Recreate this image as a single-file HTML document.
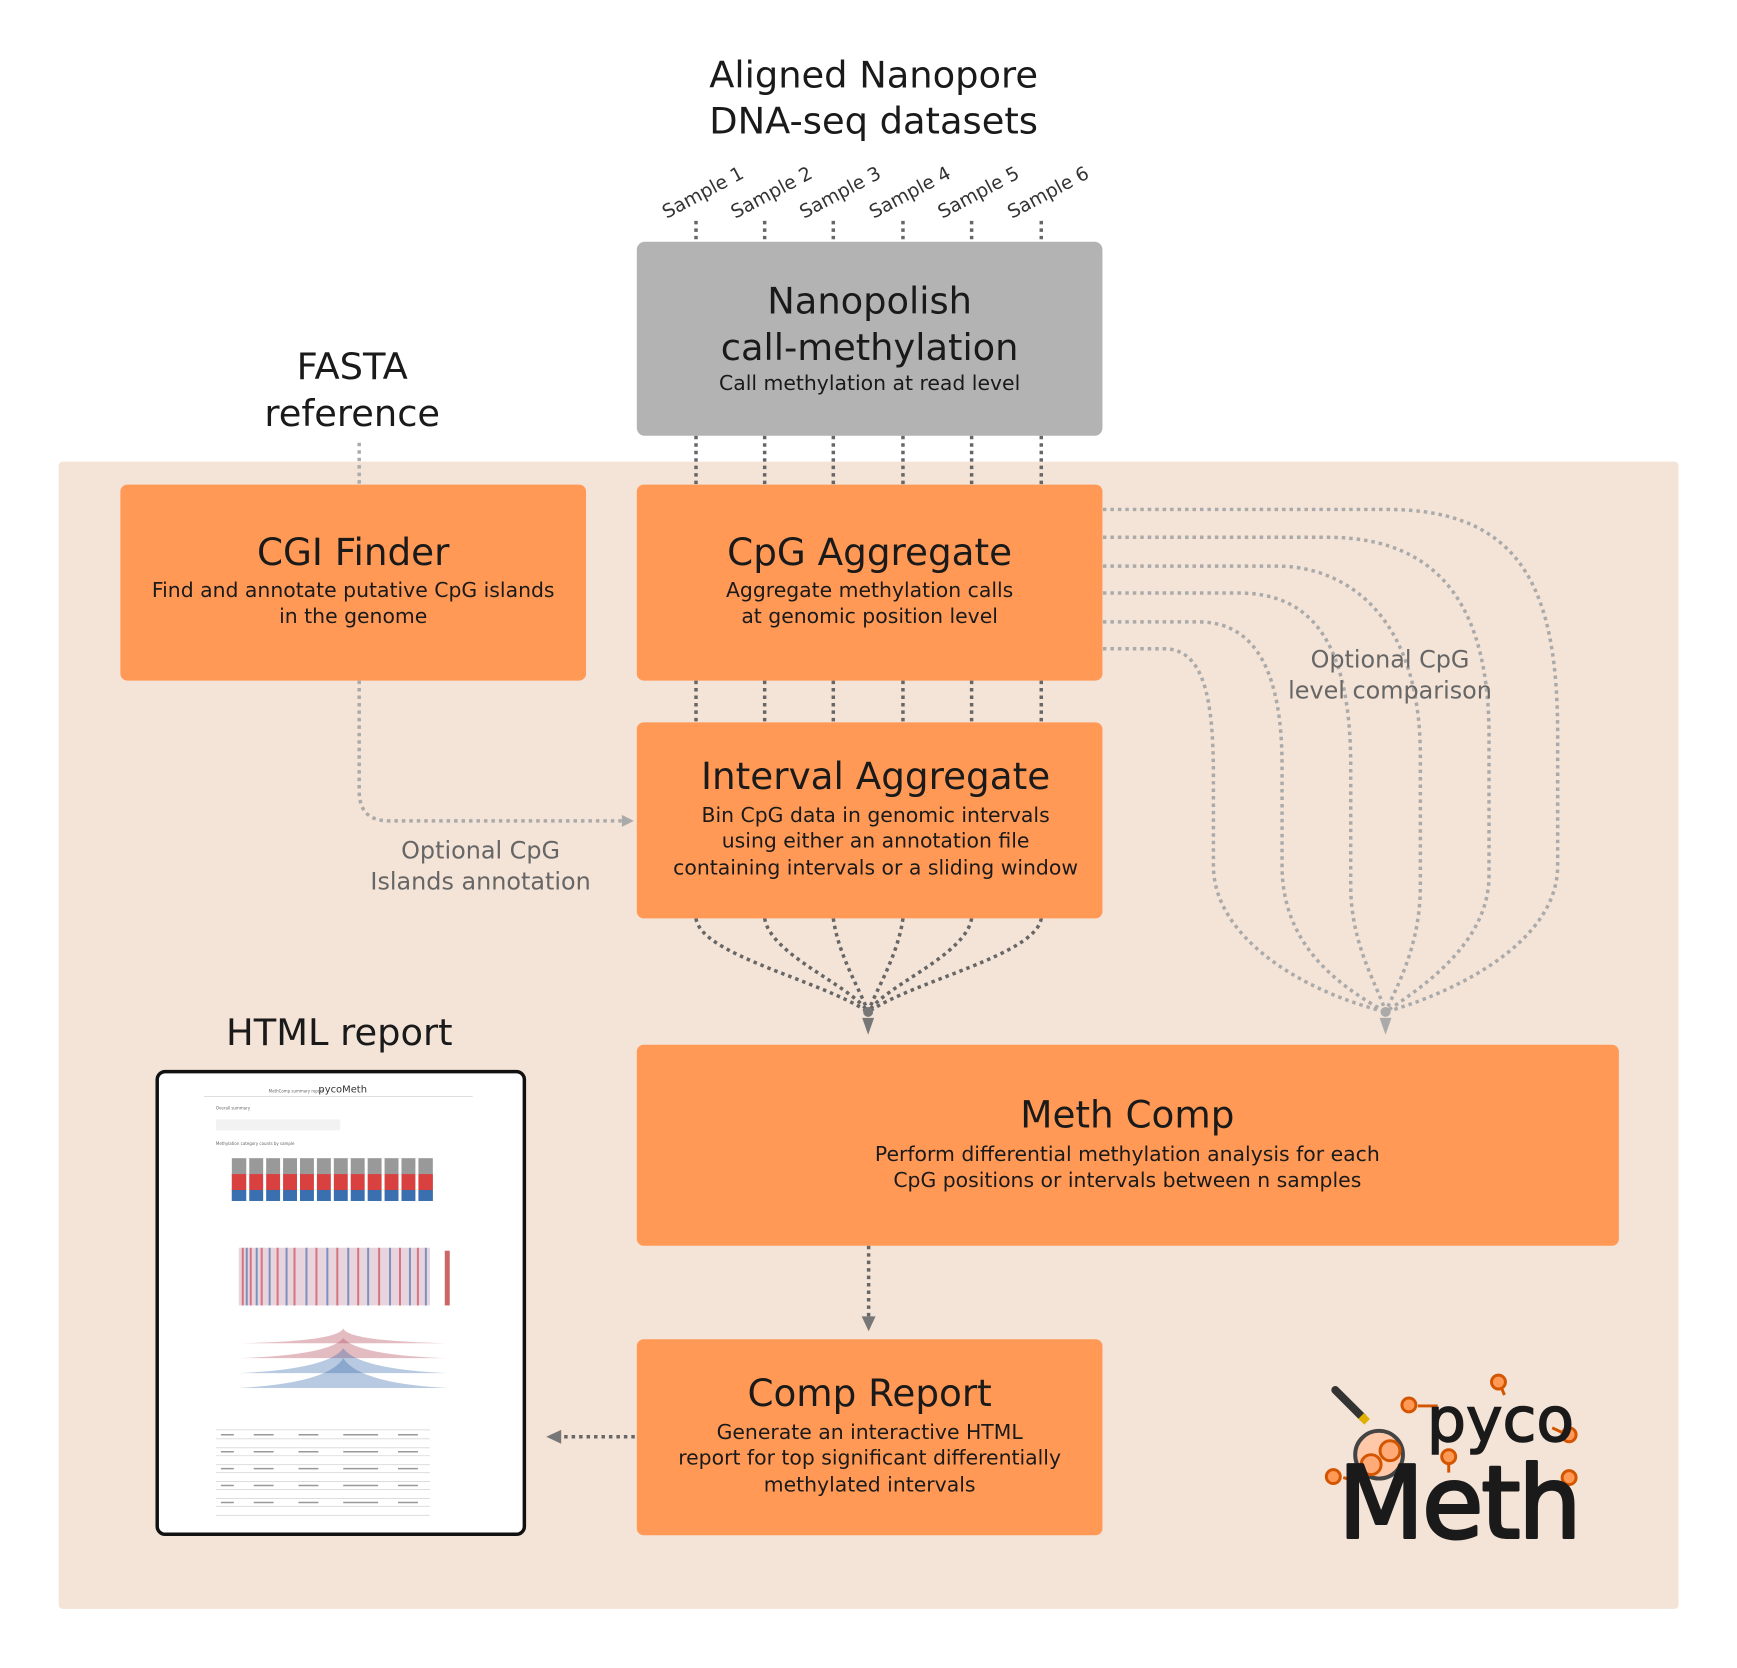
<!DOCTYPE html>
<html><head><meta charset="utf-8"><style>
html,body{margin:0;padding:0;background:#fff;}
svg{display:block;font-family:"DejaVu Sans","Liberation Sans",sans-serif;}
</style></head><body>
<svg width="1737" height="1668" viewBox="0 0 1737 1668" xmlns="http://www.w3.org/2000/svg">
<rect width="1737" height="1668" fill="#fff"/>
<g transform="scale(0.995)">
<text x="878" y="88" font-size="37" text-anchor="middle" fill="#1a1a1a">Aligned Nanopore</text>
<text x="878" y="134" font-size="37" text-anchor="middle" fill="#1a1a1a">DNA-seq datasets</text>
<g font-size="19" fill="#333">
<text transform="translate(670,220) rotate(-28)">Sample 1</text>
<text transform="translate(739,220) rotate(-28)">Sample 2</text>
<text transform="translate(808,220) rotate(-28)">Sample 3</text>
<text transform="translate(878,220) rotate(-28)">Sample 4</text>
<text transform="translate(947,220) rotate(-28)">Sample 5</text>
<text transform="translate(1017,220) rotate(-28)">Sample 6</text>
</g>
<text x="354" y="381" font-size="37" text-anchor="middle" fill="#1a1a1a">FASTA</text>
<text x="354" y="428" font-size="37" text-anchor="middle" fill="#1a1a1a">reference</text>
<rect x="59" y="464" width="1628" height="1153" rx="4" fill="#f4e3d7"/>
<g transform="translate(4.5,0)">
<g stroke="#666" stroke-width="3.5" stroke-dasharray="3.5 4" fill="none">
<path d="M695 222V243M764 222V243M833 222V243M903 222V243M972 222V243M1042 222V243"/>
<path d="M695 438V487M764 438V487M833 438V487M903 438V487M972 438V487M1042 438V487"/>
<path d="M695 684V726M764 684V726M833 684V726M903 684V726M972 684V726M1042 684V726"/>
<path d="M695 923C700 960 820 985 868 1017"/>
<path d="M764 923C770 960 850 990 868 1017"/>
<path d="M833 923C838 960 860 995 868 1017"/>
<path d="M903 923C898 960 876 995 868 1017"/>
<path d="M972 923C966 960 886 990 868 1017"/>
<path d="M1042 923C1036 960 916 985 868 1017"/>
</g>
<circle cx="868" cy="1017" r="5" fill="#777"/>
<path d="M862 1023L874 1023L868 1040Z" fill="#777"/>
</g>
<g stroke="#666" stroke-width="3.5" stroke-dasharray="3.5 4" fill="none">
<path d="M873 1252V1325"/>
<path d="M638 1444H562"/>
</g>
<path d="M866 1323L880 1323L873 1338Z" fill="#777"/>
<path d="M564 1437L564 1451L549 1444Z" fill="#777"/>
<g stroke="#aaa" stroke-width="3.5" stroke-dasharray="3.5 4" fill="none">
<path d="M361 445V487"/>
<path d="M361 684V795Q361 825 391 825H625"/>
</g>
<g transform="translate(4.5,0)">
<g stroke="#aaa" stroke-width="3.5" stroke-dasharray="3.5 4" fill="none">
<path d="M1104 512H1390C1530 512 1561 600 1561 740V870C1561 950 1450 1000 1388 1017"/>
<path d="M1104 540H1330C1450 540 1492 620 1492 740V880C1492 950 1420 995 1388 1017"/>
<path d="M1104 569H1280C1340 569 1423 610 1423 760V890C1423 950 1400 990 1388 1017"/>
<path d="M1104 596H1240C1310 596 1353 640 1353 770V890C1353 950 1380 990 1388 1017"/>
<path d="M1104 625H1200C1260 625 1284 680 1284 770V870C1284 950 1340 990 1388 1017"/>
<path d="M1104 652H1165C1205 652 1215 700 1215 780V870C1215 940 1300 995 1388 1017"/>
</g>
<circle cx="1388" cy="1017" r="5" fill="#aaa"/>
<path d="M1382 1023L1394 1023L1388 1040Z" fill="#aaa"/>
</g>
<path d="M625 819L625 831L637 825Z" fill="#aaa"/>
<g fill="#666" font-size="24" text-anchor="middle">
<text x="1397" y="671">Optional CpG</text>
<text x="1397" y="702">level comparison</text>
<text x="483" y="863">Optional CpG</text>
<text x="483" y="894">Islands annotation</text>
</g>
<rect x="640" y="243" width="468" height="195" rx="8" fill="#b3b3b3"/>
<g fill="#1a1a1a" text-anchor="middle">
<text x="874" y="315" font-size="37">Nanopolish</text>
<text x="874" y="362" font-size="37">call-methylation</text>
<text x="874" y="392" font-size="20.5">Call methylation at read level</text>
</g>
<g fill="#ff9955">
<rect x="121" y="487" width="468" height="197" rx="7"/>
<rect x="640" y="487" width="468" height="197" rx="7"/>
<rect x="640" y="726" width="468" height="197" rx="7"/>
<rect x="640" y="1050" width="987" height="202" rx="7"/>
<rect x="640" y="1346" width="468" height="197" rx="7"/>
</g>
<g fill="#1a1a1a" text-anchor="middle">
<text x="355" y="568" font-size="37.5">CGI Finder</text>
<text x="355" y="600" font-size="20.5">Find and annotate putative CpG islands</text>
<text x="355" y="626" font-size="20.5">in the genome</text>
<text x="874" y="568" font-size="37.5">CpG Aggregate</text>
<text x="874" y="600" font-size="20.5">Aggregate methylation calls</text>
<text x="874" y="626" font-size="20.5">at genomic position level</text>
<text x="880" y="793" font-size="37.5">Interval Aggregate</text>
<text x="880" y="826" font-size="20.5">Bin CpG data in genomic intervals</text>
<text x="880" y="852" font-size="20.5">using either an annotation file</text>
<text x="880" y="879" font-size="20.5">containing intervals or a sliding window</text>
<text x="1133" y="1133" font-size="37.5">Meth Comp</text>
<text x="1133" y="1167" font-size="20.5">Perform differential methylation analysis for each</text>
<text x="1133" y="1193" font-size="20.5">CpG positions or intervals between n samples</text>
<text x="874" y="1413" font-size="37.5">Comp Report</text>
<text x="874" y="1446" font-size="20.5">Generate an interactive HTML</text>
<text x="874" y="1472" font-size="20.5">report for top significant differentially</text>
<text x="874" y="1499" font-size="20.5">methylated intervals</text>
<text x="341" y="1050" font-size="37">HTML report</text>
</g>
<!-- report thumbnail -->
<rect x="158" y="1077" width="369" height="465" rx="8" fill="#fff" stroke="#111" stroke-width="3.5"/>
<g font-size="4" fill="#666">
<text x="320" y="1098" font-size="10" fill="#333">pycoMeth</text>
<text x="270" y="1098" font-size="4">MethComp summary report</text>
<line x1="205" y1="1102" x2="475" y2="1102" stroke="#ddd"/>
<text x="217" y="1115">Overall summary</text>
<rect x="217" y="1125" width="125" height="11" fill="#f2f2f2"/>
<text x="217" y="1151">Methylation category counts by sample</text>
</g>
<g>
<rect x="233" y="1164" width="202" height="43" fill="#999"/>
<rect x="233" y="1180" width="202" height="17" fill="#d94040"/>
<rect x="233" y="1196" width="202" height="11" fill="#3a6fb0"/>
<path d="M249 1164V1207M266 1164V1207M283 1164V1207M300 1164V1207M317 1164V1207M334 1164V1207M351 1164V1207M368 1164V1207M385 1164V1207M402 1164V1207M419 1164V1207" stroke="#fff" stroke-width="3"/>
</g>
<rect x="240" y="1254" width="192" height="58" fill="#e8d4dc"/>
<g stroke-width="2">
<path d="M244 1254V1312M252 1254V1312M263 1254V1312M279 1254V1312M296 1254V1312M318 1254V1312M339 1254V1312M360 1254V1312M381 1254V1312M402 1254V1312M420 1254V1312" stroke="#cc3344" stroke-opacity=".6"/>
<path d="M248 1254V1312M258 1254V1312M271 1254V1312M288 1254V1312M308 1254V1312M329 1254V1312M350 1254V1312M370 1254V1312M392 1254V1312M412 1254V1312M428 1254V1312" stroke="#3366aa" stroke-opacity=".6"/>
</g>
<rect x="447" y="1257" width="5" height="55" fill="#c66"/>
<g fill="#b04050" fill-opacity=".35">
<path d="M240 1350Q340 1348 345 1335Q350 1348 450 1350Z"/>
<path d="M240 1365Q330 1362 345 1345Q360 1362 450 1365Z"/>
</g>
<g fill="#3366aa" fill-opacity=".35">
<path d="M240 1380Q330 1376 345 1355Q360 1376 450 1380Z"/>
<path d="M240 1395Q330 1390 345 1365Q360 1390 450 1395Z"/>
</g>
<g stroke="#ddd" stroke-width="1">
<path d="M217 1437H432M217 1446H432M217 1455H432M217 1463H432M217 1472H432M217 1480H432M217 1489H432M217 1497H432M217 1506H432M217 1514H432M217 1523H432"/>
</g>
<g stroke="#999" stroke-width="1.5">
<path d="M222 1442H235M255 1442H275M300 1442H320M345 1442H380M400 1442H420"/>
<path d="M222 1459H235M255 1459H275M300 1459H320M345 1459H380M400 1459H420"/>
<path d="M222 1476H235M255 1476H275M300 1476H320M345 1476H380M400 1476H420"/>
<path d="M222 1493H235M255 1493H275M300 1493H320M345 1493H380M400 1493H420"/>
<path d="M222 1510H235M255 1510H275M300 1510H320M345 1510H380M400 1510H420"/>
</g>
<!-- logo -->
<g>
<line x1="1342" y1="1397" x2="1370" y2="1425" stroke="#333" stroke-width="8" stroke-linecap="round"/>
<line x1="1368" y1="1423" x2="1374" y2="1429" stroke="#e0b000" stroke-width="8"/>
<g stroke="#d45500" stroke-width="3" fill="#ff9955">
<line x1="1425" y1="1413" x2="1445" y2="1413"/><circle cx="1416" cy="1412" r="7"/>
<line x1="1507" y1="1390" x2="1512" y2="1402"/><circle cx="1506" cy="1389" r="7"/>
<line x1="1560" y1="1435" x2="1575" y2="1442"/><circle cx="1577" cy="1442" r="7"/>
<line x1="1456" y1="1466" x2="1456" y2="1480"/><circle cx="1456" cy="1464" r="7"/>
<line x1="1350" y1="1485" x2="1360" y2="1488"/><circle cx="1340" cy="1484" r="7"/>
<line x1="1560" y1="1495" x2="1575" y2="1488"/><circle cx="1577" cy="1485" r="7"/>
</g>
<circle cx="1386" cy="1462" r="24" fill="#ffc8a8" stroke="#444" stroke-width="4"/>
<circle cx="1378" cy="1472" r="10" fill="#ffaa77" stroke="#d45500" stroke-width="3"/>
<circle cx="1397" cy="1458" r="10" fill="#ffaa77" stroke="#d45500" stroke-width="3"/>
<text x="1434" y="1448" font-size="62" fill="#1a1a1a" stroke="#1a1a1a" stroke-width="1.5">pyco</text>
<text x="1345" y="1545" font-size="100" fill="#1a1a1a" stroke="#1a1a1a" stroke-width="3" stroke-linejoin="round" letter-spacing="-2">Meth</text>
</g>
</g>
</svg>
</body></html>
